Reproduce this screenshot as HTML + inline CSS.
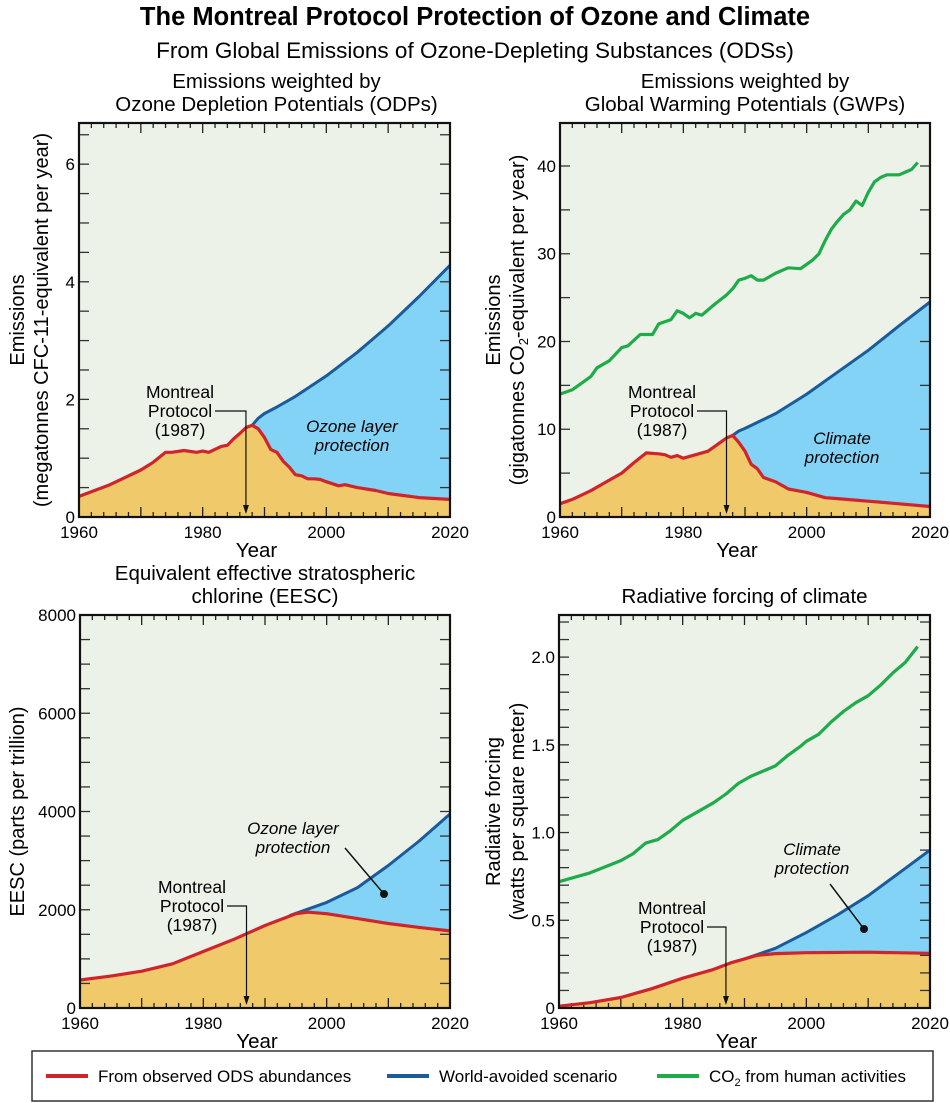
<!DOCTYPE html>
<html><head><meta charset="utf-8"><style>
body{margin:0;background:#fff;}
svg{display:block;font-family:"Liberation Sans",sans-serif;}
</style></head><body>
<svg id="chart" width="950" height="1103" viewBox="0 0 950 1103" xmlns="http://www.w3.org/2000/svg">
<text x="475" y="25" text-anchor="middle" font-size="25.5" font-weight="bold">The Montreal Protocol Protection of Ozone and Climate</text>
<text x="475" y="58" text-anchor="middle" font-size="22.5">From Global Emissions of Ozone-Depleting Substances (ODSs)</text>
<g id="legend">
<rect x="32" y="1051" width="901" height="50" fill="#fff" stroke="#333" stroke-width="1.5"/>
<line x1="46" y1="1076" x2="88" y2="1076" stroke="#d0242d" stroke-width="4"/>
<text x="98" y="1082" font-size="17">From observed ODS abundances</text>
<line x1="387" y1="1076" x2="429" y2="1076" stroke="#1a5b9c" stroke-width="4"/>
<text x="439" y="1082" font-size="17">World-avoided scenario</text>
<line x1="657" y1="1076" x2="699" y2="1076" stroke="#1eac4a" stroke-width="4"/>
<text x="709" y="1082" font-size="17">CO<tspan font-size="11" dy="4">2</tspan><tspan dy="-4"> from human activities</tspan></text>
</g>
</svg>
<script>
// Panel A: ODP-weighted emissions
const odpObsYears=[1960,1965,1970,1972,1974,1975,1977,1979,1980,1981,1983,1984,1985,1986,1987,1988,1989,1990,1991,1992,1993,1994,1995,1996,1997,1998,1999,2000,2002,2003,2005,2008,2010,2015,2020];
const odpObsVals=[0.35,0.55,0.8,0.93,1.1,1.1,1.13,1.1,1.12,1.1,1.2,1.22,1.33,1.42,1.52,1.56,1.5,1.35,1.15,1.1,0.95,0.85,0.72,0.7,0.65,0.65,0.64,0.6,0.53,0.55,0.5,0.45,0.4,0.33,0.3];
const odpAvYears=[1988,1989,1990,1992,1995,2000,2005,2010,2015,2020];
const odpAvVals=[1.56,1.68,1.76,1.87,2.05,2.4,2.8,3.25,3.75,4.28];
// Panel B: GWP-weighted emissions
const gwpObsYears=[1960,1962,1965,1968,1970,1972,1974,1976,1977,1978,1979,1980,1982,1984,1986,1987,1988,1989,1990,1991,1992,1993,1995,1997,2000,2003,2005,2010,2015,2020];
const gwpObsVals=[1.5,2,3,4.2,5,6.2,7.3,7.2,7.1,6.8,7,6.7,7.1,7.5,8.5,9,9.3,8.5,7.5,6,5.5,4.5,4,3.2,2.8,2.2,2.1,1.8,1.5,1.2];
const gwpAvYears=[1988,1989,1990,1995,2000,2005,2010,2015,2020];
const gwpAvVals=[9.3,9.8,10.1,11.8,14,16.5,19,21.8,24.5];
const co2EmYears=[1960,1962,1965,1966,1968,1970,1971,1973,1975,1976,1978,1979,1980,1981,1982,1983,1985,1987,1988,1989,1990,1991,1992,1993,1995,1997,1999,2001,2002,2003,2004,2005,2006,2007,2008,2009,2010,2011,2012,2013,2014,2015,2016,2017,2018];
const co2EmVals=[14,14.5,16,17,17.8,19.3,19.5,20.8,20.8,22,22.5,23.5,23.2,22.7,23.2,23,24.2,25.3,26,27,27.2,27.5,27,27,27.8,28.4,28.3,29.3,30,31.5,32.8,33.7,34.5,35,36,35.5,37,38.2,38.7,39,39,39,39.3,39.6,40.4];
// Panel C: EESC
const eescObsYears=[1960,1965,1970,1975,1980,1985,1990,1995,1997,2000,2005,2010,2015,2020];
const eescObsVals=[570,650,750,900,1150,1400,1680,1920,1950,1920,1820,1720,1640,1570];
const eescAvYears=[1994,2000,2005,2010,2015,2020];
const eescAvVals=[1880,2150,2450,2900,3400,3950];
// Panel D: radiative forcing
const rfObsYears=[1960,1965,1970,1975,1980,1985,1988,1990,1992,1995,2000,2010,2020];
const rfObsVals=[0.01,0.03,0.06,0.11,0.17,0.22,0.26,0.28,0.3,0.31,0.315,0.318,0.312];
const rfAvYears=[1990,1995,2000,2005,2010,2015,2020];
const rfAvVals=[0.28,0.34,0.43,0.53,0.64,0.77,0.9];
const rfCo2Years=[1960,1965,1970,1972,1974,1976,1978,1980,1982,1985,1987,1989,1991,1993,1995,1997,1999,2000,2002,2004,2006,2008,2010,2012,2014,2016,2018];
const rfCo2Vals=[0.72,0.77,0.84,0.88,0.94,0.96,1.01,1.07,1.11,1.17,1.22,1.28,1.32,1.35,1.38,1.44,1.49,1.52,1.56,1.63,1.69,1.74,1.78,1.84,1.91,1.97,2.06];
const xTickLabels=[1960,1980,2000,2020];
const odpTickLabels=[0,2,4,6];
const gwpTickLabels=[0,10,20,30,40];
const eescTickLabels=[0,2000,4000,6000,8000];
const rfTickLabels=['0','0.5','1.0','1.5','2.0'];

const NS='http://www.w3.org/2000/svg';
const svg=document.getElementById('chart');
function mk(tag,attrs,parent){const e=document.createElementNS(NS,tag);for(const k in attrs)e.setAttribute(k,attrs[k]);(parent||svg).appendChild(e);return e;}
const C={bg:'#edf2e9',fill:'#f0c96a',blue:'#82d3f6',red:'#d0242d',dblue:'#1a5b9c',green:'#1eac4a'};

function panel(o){
  const g=mk('g',{});
  
  
  const L=o.x0,R=o.x1,T=o.y0,B=o.y1;
  const X=y=>L+(y-1960)/60*(R-L);
  const Y=v=>B-v/o.ymax*(B-T);
  mk('rect',{x:L,y:T,width:R-L,height:B-T,fill:C.bg},g);
  const pts=(ys,vs)=>ys.map((y,i)=>X(y).toFixed(1)+','+Y(vs[i]).toFixed(1));
  const avPts=pts(o.avY,o.avV);
  const obsAfter=[];
  for(let i=o.obsY.length-1;i>=0;i--) if(o.obsY[i]>=o.avY[0]) obsAfter.push(X(o.obsY[i]).toFixed(1)+','+Y(o.obsV[i]).toFixed(1));
  const bf=mk('polygon',{points:avPts.concat(obsAfter).join(' '),fill:C.blue},g);
  
  
  const of=mk('polygon',{points:pts(o.obsY,o.obsV).join(' ')+' '+X(o.obsY[o.obsY.length-1])+','+B+' '+X(o.obsY[0])+','+B,fill:C.fill},g);
  
  
  for(let yr=1960;yr<=2020;yr+=2){const len=yr%10===0?10:5;const x=X(yr);
    mk('line',{x1:x,y1:B,x2:x,y2:B-len,stroke:'#222','stroke-width':1.3},g);
    mk('line',{x1:x,y1:T,x2:x,y2:T+len,stroke:'#222','stroke-width':1.3},g);}
  for(let v=0;v<=o.ymax+1e-9;v+=o.minor){const y=Y(v);
    mk('line',{x1:L,y1:y,x2:L+10,y2:y,stroke:'#333','stroke-width':1.3},g);
    mk('line',{x1:R,y1:y,x2:R-10,y2:y,stroke:'#333','stroke-width':1.3},g);}
  xTickLabels.forEach(t=>{const e=mk('text',{x:X(t),y:B+21,'text-anchor':'middle','font-size':17},g);e.textContent=t;
    
    });
  o.ticks.forEach((t,i)=>{const v=parseFloat(t);const e=mk('text',{x:L-4,y:Y(v)+6,'text-anchor':'end','font-size':17},g);e.textContent=t;
    
    });
  const xt=mk('text',{x:(L+R)/2-8,y:B+40,'text-anchor':'middle','font-size':20.5},g);xt.textContent='Year';
  
  
  if(o.co2Y){const l=mk('polyline',{points:pts(o.co2Y,o.co2V).join(' '),fill:'none',stroke:C.green,'stroke-width':3.2,'stroke-linejoin':'round'},g);
    
    }
  const al=mk('polyline',{points:avPts.join(' '),fill:'none',stroke:C.dblue,'stroke-width':3,'stroke-linejoin':'round'},g);
  
  
  const ol=mk('polyline',{points:pts(o.obsY,o.obsV).join(' '),fill:'none',stroke:C.red,'stroke-width':3.2,'stroke-linejoin':'round'},g);
  
  
  mk('rect',{x:L,y:T,width:R-L,height:B-T,fill:'none',stroke:'#111','stroke-width':2.2},g);
  const mx=X(1987);
  const a=mk('g',{},g);
  
  
  const tx=o.mtx, ty=o.mty;
  ['Montreal','Protocol','(1987)'].forEach((s,i)=>{const e=mk('text',{x:tx,y:ty+i*19,'text-anchor':'middle','font-size':17.5},a);e.textContent=s;});
  mk('polyline',{points:`${tx+35},${ty+13} ${mx},${ty+13} ${mx},${B-8}`,fill:'none',stroke:'#111','stroke-width':1.2},a);
  mk('polygon',{points:`${mx-3},${B-12} ${mx+3},${B-12} ${mx},${B-3}`,fill:'#111'},a);
  const p=mk('g',{},g);
  
  
  o.pl.forEach((s,i)=>{const e=mk('text',{x:o.plx,y:o.ply+i*19,'text-anchor':'middle','font-size':17,'font-style':'italic'},p);e.textContent=s;});
  if(o.dot){mk('line',{x1:o.dot[0],y1:o.dot[1],x2:o.dot[2],y2:o.dot[3],stroke:'#111','stroke-width':1.5},p);
    mk('circle',{cx:o.dot[2],cy:o.dot[3],r:4,fill:'#111'},p);}
  o.title.forEach((s,i)=>{const e=mk('text',{x:(L+R)/2+o.tdx,y:T-(o.title.length-1-i)*23-12,'text-anchor':'middle','font-size':20.5},g);e.textContent=s;
    
    });
  o.ylab.forEach((s,i)=>{const cx=o.ylx+i*24,cy=(T+B)/2;const e=mk('text',{x:cx,y:cy,'text-anchor':'middle','font-size':20,transform:`rotate(-90 ${cx} ${cy})`},g);e.innerHTML=s;
    
    });
}
panel({name:'panel-odp-emissions',x0:79,x1:450,y0:123,y1:517,ymax:6.7,minor:0.5,ticks:odpTickLabels.map(String),
  obsY:odpObsYears,obsV:odpObsVals,avY:odpAvYears,avV:odpAvVals,mtx:180,mty:398,pl:['Ozone layer','protection'],plx:352,ply:432,
  title:['Emissions weighted by','Ozone Depletion Potentials (ODPs)'],tdx:12,ylab:['Emissions','(megatonnes CFC-11-equivalent per year)'],ylx:24});
panel({name:'panel-gwp-emissions',x0:560,x1:930,y0:123,y1:517,ymax:44.9,minor:5,ticks:gwpTickLabels.map(String),
  obsY:gwpObsYears,obsV:gwpObsVals,avY:gwpAvYears,avV:gwpAvVals,co2Y:co2EmYears,co2V:co2EmVals,mtx:662,mty:398,pl:['Climate','protection'],plx:842,ply:444,
  title:['Emissions weighted by','Global Warming Potentials (GWPs)'],tdx:0,ylab:['Emissions','(gigatonnes CO<tspan font-size="13" dy="4">2</tspan><tspan dy="-4">-equivalent per year)</tspan>'],ylx:500});
panel({name:'panel-eesc',x0:80,x1:450,y0:615,y1:1008,ymax:8000,minor:500,ticks:eescTickLabels.map(String),
  obsY:eescObsYears,obsV:eescObsVals,avY:eescAvYears,avV:eescAvVals,mtx:192,mty:893,pl:['Ozone layer','protection'],plx:293,ply:834,dot:[345,848,384,894],
  title:['Equivalent effective stratospheric','chlorine (EESC)'],tdx:0,ylab:['EESC (parts per trillion)'],ylx:24});
panel({name:'panel-radiative-forcing',x0:559,x1:930,y0:615,y1:1008,ymax:2.24,minor:0.1,ticks:rfTickLabels,
  obsY:rfObsYears,obsV:rfObsVals,avY:rfAvYears,avV:rfAvVals,co2Y:rfCo2Years,co2V:rfCo2Vals,mtx:672,mty:914,pl:['Climate','protection'],plx:812,ply:855,dot:[830,884,864,929],
  title:['Radiative forcing of climate'],tdx:0,ylab:['Radiative forcing','(watts per square meter)'],ylx:500});
</script>
</body></html>
